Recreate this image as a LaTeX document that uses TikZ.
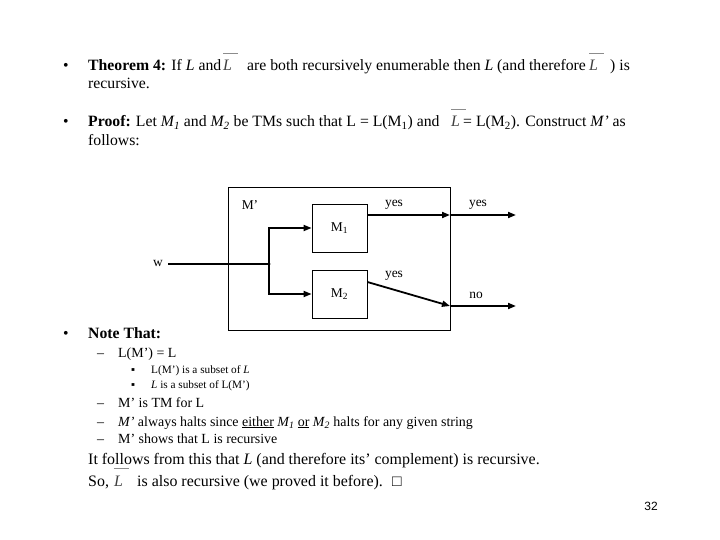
\documentclass[tikz,border=0pt]{standalone}
\usepackage{fontspec}
\setmainfont{Liberation Serif}
\newfontfamily\pagefont{Liberation Sans}
\usetikzlibrary{positioning,arrows.meta}

\newcommand{\Lbar}{\makebox[0pt][l]{\raisebox{17bp}{\color{black!45}\rule{15bp}{1.2bp}}}\textit{L}}

\tikzset{
  txt/.style={anchor=base west, inner sep=0pt, font=\fontsize{15.8}{17}\selectfont},
  subtxt/.style={txt, font=\fontsize{14}{16}\selectfont},
  subsubtxt/.style={txt, font=\fontsize{11.3}{12}\selectfont},
  bigtxt/.style={txt, font=\fontsize{16}{18}\selectfont},
  lbar/.style={anchor=base west, inner sep=0pt, font=\fontsize{16}{18}\selectfont, text=black!75},
  tmbox/.style={draw, line width=0.8pt, minimum width=55bp, minimum height=48bp,
    font=\fontsize{13.5}{14}\selectfont},
  wire/.style={line width=1.8pt},
  flow/.style={wire, -{Triangle[length=8bp, width=6bp]}},
  lbl/.style={inner sep=0pt, font=\fontsize{13.5}{14}\selectfont},
}

\begin{document}
\begin{tikzpicture}[x=1bp, y=-1bp]
  \useasboundingbox (0,0) rectangle (720,540);

  % theorem
  \node[txt] (bul1) at (63,71) {•};
  \node[txt] (thm) at (88,71) {\textbf{Theorem 4:} If \textit{L} and};
  \node[lbar] (lb1) at (223,71) {\Lbar};
  \node[txt] (thmb) at (247,71) {are both recursively enumerable then \textit{L} (and therefore};
  \node[lbar] (lb2) at (589,71) {\Lbar};
  \node[txt] (thmc) at (610,71) {) is};
  \node[txt] (thmd) at (88,89) {recursive.};

  % proof
  \node[txt] (bul2) at (63,127) {•};
  \node[txt] (prf) at (88,127) {\textbf{Proof:} Let \textit{M\textsubscript{1}} and \textit{M\textsubscript{2}} be TMs such that L = L(M\textsubscript{1}) and};
  \node[lbar] (lb3) at (451,127) {\Lbar};
  \node[txt] (prfb) at (463,127) {= L(M\textsubscript{2}). Construct \textit{M’} as};
  \node[txt] (prfc) at (88,146) {follows:};

  % the machine M'
  \node[draw, line width=0.8pt, minimum width=222bp, minimum height=143bp] (mp) at (339,258.5) {};
  \node[lbl] (mplbl) at (250,205) {M’};
  \node[tmbox] (m1) at (339.5,228) {M\textsubscript{1}};
  \node[tmbox] (m2) at (339.5,294) {M\textsubscript{2}};
  \node[lbl, inner xsep=5bp] (w) at (158,263) {w};
  \coordinate (split) at (269,264);
  \coordinate (o1) at (450,215);
  \coordinate (o2) at (450,306);
  \coordinate (e1) at (516,215);
  \coordinate (e2) at (516,306);

  \draw[wire] (w.east |- split) -- (split);
  \fill (split) circle (1.6bp);
  \draw[flow] (split) |- (m1.west);
  \draw[flow] (split) |- (m2.west);
  \draw[flow] (m1.east |- o1) -- (o1);
  \draw[flow] (o1) -- (e1);
  \draw[flow] ([yshift=12bp]m2.east) -- (o2);
  \draw[flow] (o2) -- (e2);

  \node[lbl] (y1) at (394,205) {yes};
  \node[lbl] (y2) at (478,205) {yes};
  \node[lbl] (y3) at (394,276) {yes};
  \node[lbl] (n2) at (476,295) {no};

  % note
  \node[txt] (bul3) at (63,338) {•};
  \node[txt] (note) at (88,338) {\textbf{Note That:}};
  \foreach \y in {357,407,426,443}
    \node[subtxt] (dash\y) at (97,\y) {–};
  \node[subtxt] (n1) at (118,357) {L(M’) = L};
  \node[subsubtxt] (sq1) at (131,373) {▪};
  \node[subsubtxt] (n1a) at (151,373) {L(M’) is a subset of \textit{L}};
  \node[subsubtxt] (sq2) at (131,388) {▪};
  \node[subsubtxt] (n1b) at (151,388) {\textit{L} is a subset of L(M’)};
  \node[subtxt] (n2t) at (118,407) {M’ is TM for L};
  \node[subtxt] (n3) at (118,426) {\textit{M’} always halts since \underline{either} \textit{M\textsubscript{1}} \underline{or} \textit{M\textsubscript{2}} halts for any given string};
  \node[subtxt] (n4) at (118,443) {M’ shows that L is recursive};

  \node[bigtxt] (conc) at (88,464) {It follows from this that \textit{L} (and therefore its’ complement) is recursive.};
  \node[bigtxt] (so) at (88,486) {So,};
  \node[lbar] (lb4) at (114,486) {\Lbar};
  \node[bigtxt] (sob) at (137,486) {is also recursive (we proved it before).};
  \node[txt] (qed) at (392,486) {□};

  \node[anchor=base, inner sep=0pt, font=\pagefont\fontsize{12}{14}\selectfont] (pg) at (651,510) {32};
\end{tikzpicture}
\end{document}
